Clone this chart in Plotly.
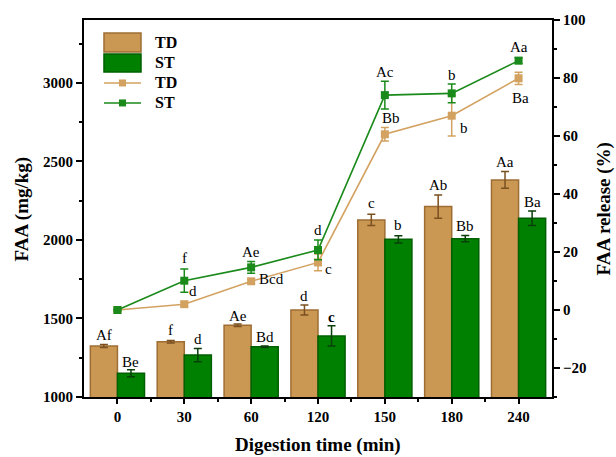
import plotly.graph_objects as go

times = ["0", "30", "60", "120", "150", "180", "240"]
idx = list(range(len(times)))

# FAA content (mg/kg) - bars
td_faa = [1325, 1352, 1457, 1554, 2127, 2212, 2382]
td_faa_err = [10, 8, 8, 32, 36, 74, 53]
st_faa = [1151, 1267, 1320, 1389, 2004, 2008, 2138]
st_faa_err = [22, 42, 5, 64, 23, 20, 46]

# FAA release (%) - lines
td_rel = [0, 2.0, 9.9, 16.4, 60.6, 67.0, 79.9]
td_rel_err = [0.3, 0.8, 0.8, 2.9, 2.3, 7.0, 2.1]
st_rel = [0, 10.1, 14.7, 20.7, 74.1, 74.7, 86.0]
st_rel_err = [0.3, 4.0, 2.0, 3.4, 4.8, 3.2, 1.0]

# significance letters
bar_td_lbl = ["Af", "f", "Ae", "d", "c", "Ab", "Aa"]
bar_td_lbl_y = [1395, 1427, 1516, 1643, 2234, 2350, 2499]
bar_st_lbl = ["Be", "d", "Bd", "<b>c</b>", "b", "Bb", "Ba"]
bar_st_lbl_y = [1225, 1367, 1384, 1508, 2096, 2089, 2244]

line_lbl = ["f", "d", "Ae", "Bcd", "d", "c", "Ac", "Bb", "b", "b", "Aa", "Ba"]
line_lbl_x = [1.0, 1.135, 2.0, 2.09, 3.0, 3.15, 4.0, 4.09, 5.0, 5.18, 6.0, 6.03]
line_lbl_y = [17.9, 6.6, 20.0, 10.7, 27.6, 14.1, 82.1, 66.2, 81.0, 62.8, 90.7, 73.1]
line_lbl_anchor = ["center", "center", "center", "left", "center", "center",
                   "center", "center", "center", "center", "center", "center"]

TD_FILL = "#CB9854"
TD_EDGE = "#9E6D33"
ST_FILL = "#008000"
ST_EDGE = "#005F00"
TD_LINE = "#D3A261"
ST_LINE = "#1A8A1A"
FONT = "Liberation Serif, Times New Roman, serif"

fig = go.Figure()
fig.add_trace(go.Bar(
    x=idx, y=td_faa, name="TD",
    marker=dict(color=TD_FILL, line=dict(color=TD_EDGE, width=1.5)),
    error_y=dict(type="data", array=td_faa_err, color="#7A5020", thickness=1.5, width=4),
    showlegend=False))
fig.add_trace(go.Bar(
    x=idx, y=st_faa, name="ST",
    marker=dict(color=ST_FILL, line=dict(color=ST_EDGE, width=1.5)),
    error_y=dict(type="data", array=st_faa_err, color="#0A3F0A", thickness=1.5, width=4),
    showlegend=False))
fig.add_trace(go.Scatter(
    x=idx, y=td_rel, yaxis="y2", mode="lines+markers", name="TD",
    line=dict(color=TD_LINE, width=1.6),
    marker=dict(symbol="square", size=8, color=TD_LINE),
    error_y=dict(type="data", array=td_rel_err, color=TD_LINE, thickness=1.5, width=4),
    showlegend=False))
fig.add_trace(go.Scatter(
    x=idx, y=st_rel, yaxis="y2", mode="lines+markers", name="ST",
    line=dict(color=ST_LINE, width=1.6),
    marker=dict(symbol="square", size=8, color=ST_LINE),
    error_y=dict(type="data", array=st_rel_err, color=ST_LINE, thickness=1.5, width=4),
    showlegend=False))

ann = []
off = 0.2025
for i in idx:
    ann.append(dict(x=i - off, y=bar_td_lbl_y[i], xref="x", yref="y", text=bar_td_lbl[i],
                    showarrow=False, xanchor="center", yanchor="middle"))
    ann.append(dict(x=i + off, y=bar_st_lbl_y[i], xref="x", yref="y", text=bar_st_lbl[i],
                    showarrow=False, xanchor="center", yanchor="middle"))
for t, xx, yy, a in zip(line_lbl, line_lbl_x, line_lbl_y, line_lbl_anchor):
    ann.append(dict(x=xx, y=yy, xref="x", yref="y2", text=t, showarrow=False,
                    xanchor=a, yanchor="middle"))

# axis titles
TFONT = dict(size=19, family=FONT, color="black", weight="bold")
ann.append(dict(x=0.5, y=-0.127, xref="paper", yref="paper", text="Digestion time (min)",
                showarrow=False, xanchor="center", yanchor="middle", font=TFONT))
ann.append(dict(x=-0.1325, y=0.5, xref="paper", yref="paper", text="FAA (mg/kg)", textangle=-90,
                showarrow=False, xanchor="center", yanchor="middle", font=TFONT))
ann.append(dict(x=1.111, y=0.5, xref="paper", yref="paper", text="FAA release (%)", textangle=-90,
                showarrow=False, xanchor="center", yanchor="middle", font=TFONT))

# legend (manual, paper coordinates)
shapes = []
shapes.append(dict(type="rect", xref="paper", yref="paper", x0=0.0427, x1=0.1218, y0=0.915, y1=0.9655,
                   fillcolor=TD_FILL, line=dict(color=TD_EDGE, width=1.5)))
shapes.append(dict(type="rect", xref="paper", yref="paper", x0=0.0427, x1=0.1218, y0=0.862, y1=0.9098,
                   fillcolor=ST_FILL, line=dict(color=ST_EDGE, width=1.5)))
for yy, c in [(0.833, TD_LINE), (0.780, ST_LINE)]:
    shapes.append(dict(type="line", xref="paper", yref="paper", x0=0.0427, x1=0.1218, y0=yy, y1=yy,
                       line=dict(color=c, width=1.6)))
    shapes.append(dict(type="rect", xref="paper", yref="paper", x0=0.0822 - 0.0075, x1=0.0822 + 0.0075,
                       y0=yy - 0.0093, y1=yy + 0.0093, fillcolor=c, line=dict(color=c, width=0)))
for t, yy in [("TD", 0.940), ("ST", 0.886), ("TD", 0.833), ("ST", 0.780)]:
    ann.append(dict(x=0.147, y=yy, xref="paper", yref="paper", text="<b>" + t + "</b>", showarrow=False,
                    xanchor="left", yanchor="middle", font=dict(size=16, family=FONT, color="black")))

fig.update_layout(
    width=616, height=457,
    margin=dict(l=84, r=64, t=20, b=60, autoexpand=False),
    paper_bgcolor="white", plot_bgcolor="white",
    barmode="group", bargap=0.19, bargroupgap=0,
    font=dict(family=FONT, size=15, color="black"),
    annotations=ann, shapes=shapes,
    xaxis=dict(range=[-0.5, 6.5], tickmode="array", tickvals=idx, ticktext=times,
               automargin=False,
               showline=True, linewidth=2, linecolor="black", mirror=True,
               ticks="outside", ticklen=5, tickwidth=2, tickcolor="black",
               minor=dict(tickmode="array", tickvals=[i + 0.5 for i in idx[:-1]],
                          ticks="outside", ticklen=3, tickwidth=2, tickcolor="black"),
               showgrid=False, zeroline=False,
               tickfont=dict(size=15, family=FONT, weight="bold")),
    yaxis=dict(range=[1000, 3400], dtick=500, tick0=1000, automargin=False,
               showline=True, linewidth=2, linecolor="black",
               ticks="outside", ticklen=6, tickwidth=2, tickcolor="black",
               minor=dict(dtick=250, ticks="outside", ticklen=3, tickwidth=2, tickcolor="black"),
               showgrid=False, zeroline=False,
               tickfont=dict(size=15, family=FONT, weight="bold")),
    yaxis2=dict(range=[-30, 100], dtick=20, tick0=0, overlaying="y", side="right", automargin=False,
                showline=True, linewidth=2, linecolor="black",
                ticks="outside", ticklen=6, tickwidth=2, tickcolor="black",
                minor=dict(dtick=10, ticks="outside", ticklen=3, tickwidth=2, tickcolor="black"),
                showgrid=False, zeroline=False,
                tickfont=dict(size=15, family=FONT, weight="bold")),
)

fig.write_html("out.html", config={"displayModeBar": False},
               post_script="document.body.style.margin='0';document.body.style.padding='0';"
                           "document.documentElement.style.overflow='hidden';")
